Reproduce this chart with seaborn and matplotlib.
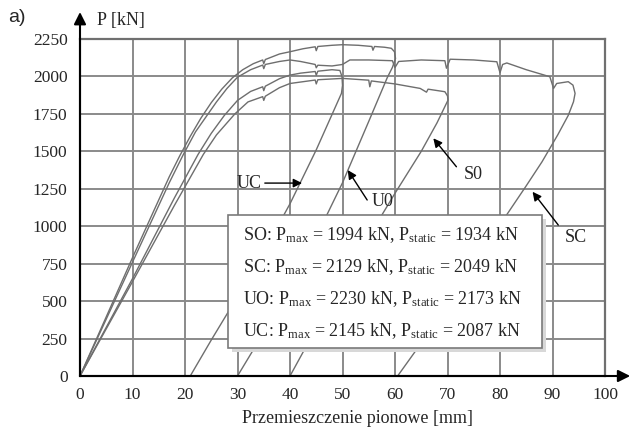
import numpy as np
import pandas as pd
import seaborn as sns
import matplotlib.pyplot as plt
from matplotlib.patches import Rectangle

# przemieszczenie [mm] i sila [kN]
uo_x = [0, 10, 17, 19, 21, 23, 25, 27, 29, 31, 33, 34.8, 35, 35.3, 38, 40, 42.5, 44.8, 45, 45.3,
        48, 50, 53, 55.6, 55.8, 56.1, 58, 59.3, 59.9, 60.1, 59.5, 58.5, 55, 50, 45, 40, 35, 30]
uo_p = [0, 790, 1330, 1470, 1600, 1720, 1825, 1915, 1990, 2045, 2085, 2110, 2085, 2113, 2150, 2165, 2185, 2198, 2172, 2200,
        2208, 2212, 2208, 2200, 2175, 2200, 2195, 2188, 2165, 2120, 2060, 1990, 1700, 1290, 930, 600, 290, 0]

uc_x = [0, 10, 18, 22.5, 25, 27.5, 30, 32.5, 34.8, 35, 35.3, 38, 40, 42, 44.8, 45, 45.3, 48, 49.5,
        49.9, 50, 49.8, 45, 40, 35, 30, 25, 21]
uc_p = [0, 650, 1190, 1480, 1620, 1740, 1840, 1900, 1931, 1905, 1935, 1985, 2009, 2022, 2033, 2008, 2035, 2045, 2040,
        2000, 1940, 1887, 1510, 1150, 830, 530, 240, 0]

sc_x = [0, 10, 17, 19.7, 22, 24, 26, 28, 30, 32.5, 34.8, 35, 35.3, 38, 40, 42, 44.8, 45, 45.3, 48, 50,
        51.4, 55, 59.5, 60, 60.7, 65, 69.5, 69.8, 70.5, 75, 79.4, 80, 80.5, 81.3, 85, 89.5, 90.2, 90.8, 93, 93.9,
        94.3, 94, 93, 91, 88, 85, 80, 75, 70, 65, 60.5]
sc_p = [0, 760, 1290, 1480, 1630, 1730, 1830, 1920, 1995, 2045, 2076, 2052, 2080, 2100, 2110, 2100, 2080, 2058, 2075, 2070, 2080,
        2110, 2110, 2105, 2060, 2100, 2110, 2105, 2055, 2115, 2110, 2098, 2025, 2080, 2090, 2045, 1998, 1920, 1953, 1965, 1942,
        1887, 1831, 1740, 1610, 1430, 1270, 1010, 750, 480, 220, 0]

so_x = [0, 10, 18, 23.5, 26, 29.5, 32, 34.8, 35, 35.3, 38, 40, 44.8, 45, 45.3, 50, 55, 55.2, 55.5,
        60, 64.8, 66, 66.3, 69.5, 70, 70.1, 68, 65, 60, 55, 50, 45, 40]
so_p = [0, 630, 1140, 1480, 1610, 1750, 1830, 1865, 1840, 1868, 1925, 1953, 1976, 1950, 1978, 1987, 1975, 1931, 1970,
        1950, 1920, 1895, 1915, 1898, 1870, 1842, 1690, 1500, 1220, 930, 630, 320, 0]

box_lines = [
    r"SO: P$_{\mathrm{max}}$ = 1994 kN, P$_{\mathrm{static}}$ = 1934 kN",
    r"SC: P$_{\mathrm{max}}$ = 2129 kN, P$_{\mathrm{static}}$ = 2049 kN",
    r"UO: P$_{\mathrm{max}}$ = 2230 kN, P$_{\mathrm{static}}$ = 2173 kN",
    r"UC: P$_{\mathrm{max}}$ = 2145 kN, P$_{\mathrm{static}}$ = 2087 kN",
]

rows = []
for name, xs, ps in [("UO", uo_x, uo_p), ("UC", uc_x, uc_p), ("SC", sc_x, sc_p), ("SO", so_x, so_p)]:
    for a, b in zip(xs, ps):
        rows.append({"x": a, "P": b, "test": name})
df = pd.DataFrame(rows)

sns.set_style("white")
plt.rcParams["font.family"] = ["Liberation Serif", "DejaVu Serif"]
plt.rcParams["mathtext.fontset"] = "custom"
plt.rcParams["mathtext.rm"] = "Liberation Serif"
plt.rcParams["mathtext.it"] = "Liberation Serif:italic"

fig = plt.figure(figsize=(6.3, 4.28), dpi=100)
ax = fig.add_axes([80 / 630, 52 / 428, 525 / 630, 337 / 428])

grid_c = "#8a8a8a"
ax.set_xlim(0, 100)
ax.set_ylim(0, 2250)
ax.set_xticks(range(0, 101, 10))
ax.set_yticks(range(0, 2251, 250))
ax.grid(True, color=grid_c, lw=1.4, zorder=0)
ax.set_axisbelow(True)

sns.lineplot(data=df, x="x", y="P", hue="test", estimator=None, sort=False,
             palette=["#6e6e6e"] * 4, legend=False, lw=1.0, ax=ax, zorder=2)

ax.tick_params(axis="both", length=0, labelsize=12.5)
ax.tick_params(axis="y", pad=9)
ax.tick_params(axis="x", pad=8)
ax.set_ylabel("")
ax.set_xlabel("Przemieszczenie pionowe [mm]", fontsize=13)
ax.xaxis.set_label_coords(0.528, -0.1)

for s in ["top", "right"]:
    ax.spines[s].set_color("#707070")
    ax.spines[s].set_linewidth(1.6)
for s in ["left", "bottom"]:
    ax.spines[s].set_color("black")
    ax.spines[s].set_linewidth(1.5)

# strzalki osi
arr = dict(arrowstyle="-|>", color="black", lw=1.5, mutation_scale=18, shrinkA=0, shrinkB=0)
ax.annotate("", xy=(0, 2430), xytext=(0, 0), arrowprops=arr, annotation_clip=False)
ax.annotate("", xy=(104.8, 0), xytext=(0, 0), arrowprops=arr, annotation_clip=False)
ax.text(3.2, 2376, "P [kN]", fontsize=13, ha="left", va="center", clip_on=False)
fig.text(8 / 630, 1 - 18 / 428, "a)", fontsize=14, family="Liberation Sans", va="center")

# ramka z wartosciami
ax.add_patch(Rectangle((29.0, 160), 59.8, 888, facecolor="#d8d8d8", edgecolor="none", zorder=4))
ax.add_patch(Rectangle((28.2, 187), 59.8, 888, facecolor="white", edgecolor="#7a7a7a", lw=1.2, zorder=5))
for i, t in enumerate(box_lines):
    ax.text(31, 908 - 213 * i, t, fontsize=13, ha="left", va="baseline", zorder=6)

# opisy krzywych
small = dict(arrowstyle="-|>", color="black", lw=1.0, mutation_scale=13, shrinkA=0, shrinkB=0)
ax.text(34.6, 1288, "UC", fontsize=13, ha="right", va="center", zorder=6)
ax.annotate("", xy=(42.3, 1288), xytext=(35.2, 1288), arrowprops=small, zorder=6)
ax.text(57.7, 1162, "U0", fontsize=13, ha="center", va="center", zorder=6)
ax.annotate("", xy=(51, 1375), xytext=(54.7, 1175), arrowprops=small, zorder=6)
ax.text(74.9, 1342, "S0", fontsize=13, ha="center", va="center", zorder=6)
ax.annotate("", xy=(67.3, 1587), xytext=(71.7, 1397), arrowprops=small, zorder=6)
ax.text(94.5, 928, "SC", fontsize=13, ha="center", va="center", zorder=6)
ax.annotate("", xy=(86.2, 1230), xytext=(91.1, 1008), arrowprops=small, zorder=6)

fig.savefig("out.png", dpi=100)
